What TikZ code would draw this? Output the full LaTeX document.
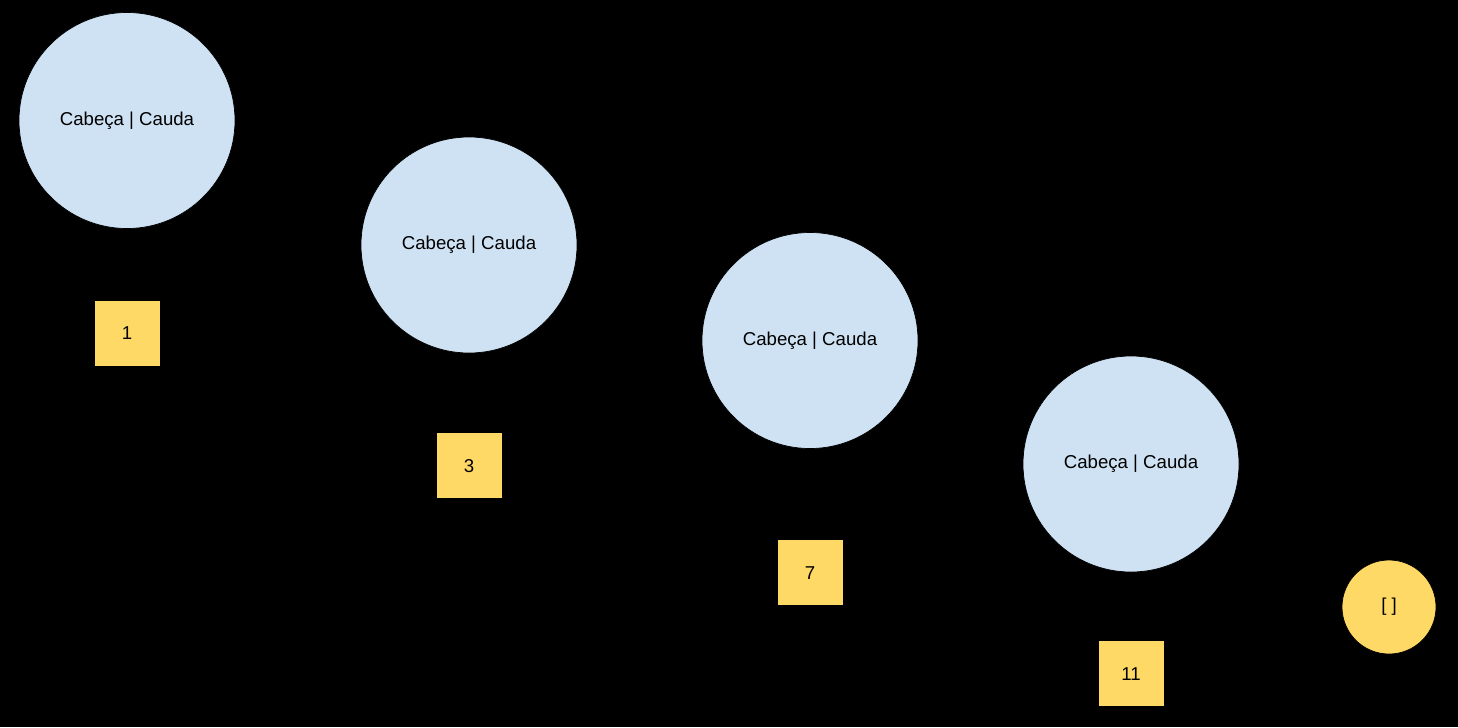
\documentclass[tikz,border=0pt]{standalone}
\usepackage{fontspec}
\setmainfont{Liberation Sans}
\usepackage{xcolor}
\usepackage{tikz}
\usetikzlibrary{positioning}
\definecolor{cellblue}{HTML}{CFE2F3}
\definecolor{valyellow}{HTML}{FFD966}
\tikzset{
  cell/.style={circle, draw=black, fill=cellblue, minimum size=4.32cm, inner sep=0pt, align=center, font=\fontsize{10.6}{12}\selectfont},
  value/.style={rectangle, draw=black, fill=valyellow, minimum width=1.32cm, minimum height=1.32cm, inner sep=0pt, font=\fontsize{10.6}{12}\selectfont},
  emptylist/.style={circle, draw=black, fill=valyellow, minimum size=1.88cm, inner sep=0pt, font=\fontsize{10.6}{12}\selectfont},
}
\begin{document}
\begin{tikzpicture}
  \fill[black] (0,0) rectangle (29.16,-14.54);
  \useasboundingbox (0,0) rectangle (29.16,-14.54);
  \node[cell] (cell1) at (2.54,-2.41) {Cabeça | Cauda};
  \node[cell] (cell2) at (9.38,-4.90) {Cabeça | Cauda};
  \node[cell] (cell3) at (16.20,-6.81) {Cabeça | Cauda};
  \node[cell] (cell4) at (22.62,-9.28) {Cabeça | Cauda};
  \node[value,below=1.42cm of cell1] (val1) {1};
  \node[value,below=1.58cm of cell2] (val2) {3};
  \node[value,below=1.81cm of cell3] (val3) {7};
  \node[value,below=1.36cm of cell4] (val4) {11};
  \node[emptylist] (nil) at (27.78,-12.14) {[ ]};
\end{tikzpicture}
\end{document}
